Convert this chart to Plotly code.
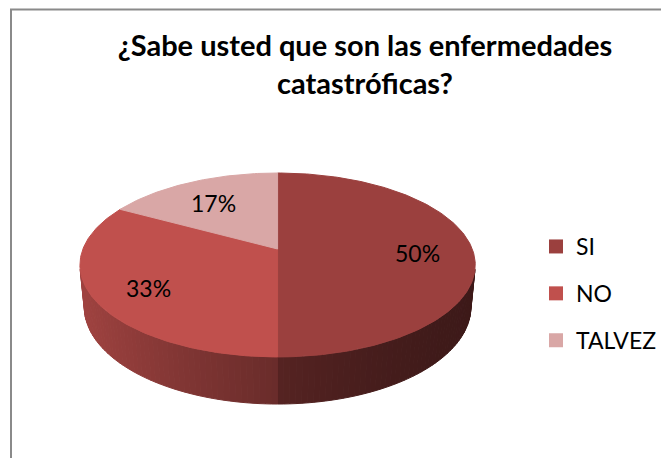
import math
import plotly.graph_objects as go

# ---------------- data ----------------
categories = ["SI", "NO", "TALVEZ"]
values = [50, 33, 17]
colors = ["#9B403E", "#C0504D", "#D9A7A6"]
title_lines = ["¿Sabe usted que son las enfermedades", "catastróficas?"]

# ---------------- page geometry ----------------
PAGE_W, PAGE_H = 670, 466
OFF = 8                                  # default body margin of the html page
FW, FH = PAGE_W - 2 * OFF, PAGE_H - 2 * OFF

# ---------------- 3D pie projection (perspective) ----------------
CX, CY = 278, 249          # projected centre of the pie top (page pixels)
M = 5.76                   # camera distance (in units of cos(alpha))
K = 1123.0                 # focal length / cos(alpha)
S = 0.4575                 # sin(tilt)
C = math.sqrt(1 - S * S)   # cos(tilt)
D = M * C
F = K * C
HGT = 0.244                # slab thickness (pie radius = 1)


def proj(theta_deg, r=1.0, y3=0.0):
    th = math.radians(theta_deg)
    X = r * math.sin(th)
    Z = r * math.cos(th)
    d = D + Z * C - y3 * S
    x = CX + X * F / d
    yup = (y3 * C + Z * S) * F / d
    return x, CY - yup


def hex_rgb(h):
    h = h.lstrip("#")
    return tuple(int(h[i:i + 2], 16) for i in (0, 2, 4))


def shade(rgb, u):
    k = 0.55 - 0.22 * u + 0.06 * u * u
    return "rgb(%d,%d,%d)" % tuple(max(0, min(255, round(v * k))) for v in rgb)


def px_x(p):
    return (p - OFF) / FW


def px_y(p):
    return 1 - (p - OFF) / FH


total = sum(values)
starts, ends = [], []
acc = 0.0
for v in values:
    starts.append(acc)
    acc += v / total * 360.0
    ends.append(acc)

fig = go.Figure()

# visible side of the slab
th_a = math.degrees(math.acos(-1.0 / (D * C)))
th_b = 360.0 - th_a
for i, cat in enumerate(categories):
    a0 = max(starts[i], th_a)
    a1 = min(ends[i], th_b)
    if a1 <= a0:
        continue
    n = max(2, int((a1 - a0) / 1.5))
    base = hex_rgb(colors[i])
    for j in range(n):
        t0 = a0 + (a1 - a0) * j / n
        t1 = a0 + (a1 - a0) * (j + 1) / n
        p1 = proj(t0)
        p2 = proj(t1)
        p3 = proj(t1, y3=-HGT)
        p4 = proj(t0, y3=-HGT)
        xm = (p1[0] + p2[0]) / 2
        u = (xm - CX) / 198.0
        col = shade(base, u)
        fig.add_trace(go.Scatter(
            x=[p1[0], p2[0], p3[0], p4[0], p1[0]],
            y=[p1[1], p2[1], p3[1], p4[1], p1[1]],
            mode="lines", fill="toself", fillcolor=col,
            line=dict(color=col, width=1),
            hoverinfo="skip", showlegend=False))

# top faces
for i, cat in enumerate(categories):
    n = max(8, int((ends[i] - starts[i]) / 1.0))
    xs, ys = [CX], [CY]
    for j in range(n + 1):
        t = starts[i] + (ends[i] - starts[i]) * j / n
        px, py = proj(t)
        xs.append(px)
        ys.append(py)
    xs.append(CX)
    ys.append(CY)
    fig.add_trace(go.Scatter(
        x=xs, y=ys, mode="lines", fill="toself", fillcolor=colors[i],
        line=dict(color=colors[i], width=1),
        hoverinfo="skip", showlegend=False))

# data labels
for i, cat in enumerate(categories):
    mid = (starts[i] + ends[i]) / 2
    lx, ly = proj(mid, r=0.72)
    fig.add_annotation(x=lx, y=ly + 4, text="%d%%" % round(values[i] / total * 100),
                       showarrow=False, font=dict(family="Lato", size=23, color="black"))

# legend entries
for i, cat in enumerate(categories):
    fig.add_trace(go.Scatter(
        x=[None], y=[None], mode="markers", name=cat, legendgroup=cat,
        marker=dict(symbol="square", size=14, color=colors[i])))

# chart border
fig.add_shape(type="rect", x0=11, y0=OFF + 1.5, x1=PAGE_W + 30, y1=PAGE_H + 30,
              line=dict(color="#8A8A8A", width=2), layer="above")

fig.update_layout(
    width=FW, height=FH,
    margin=dict(l=0, r=0, t=0, b=0),
    paper_bgcolor="white", plot_bgcolor="white",
    xaxis=dict(range=[OFF, OFF + FW], visible=False, fixedrange=True),
    yaxis=dict(range=[OFF + FH, OFF], visible=False, fixedrange=True),
    title=dict(text="<br>".join(title_lines), x=px_x(365), xanchor="center",
               y=px_y(56), yanchor="top",
               font=dict(family="Lato", size=29, color="black", weight="bold")),
    legend=dict(x=px_x(537), xanchor="left", y=px_y(225), yanchor="top",
                font=dict(family="Lato", size=23, color="black"),
                tracegroupgap=14, bgcolor="rgba(0,0,0,0)"),
    showlegend=True,
)

fig.write_html("out.html")
